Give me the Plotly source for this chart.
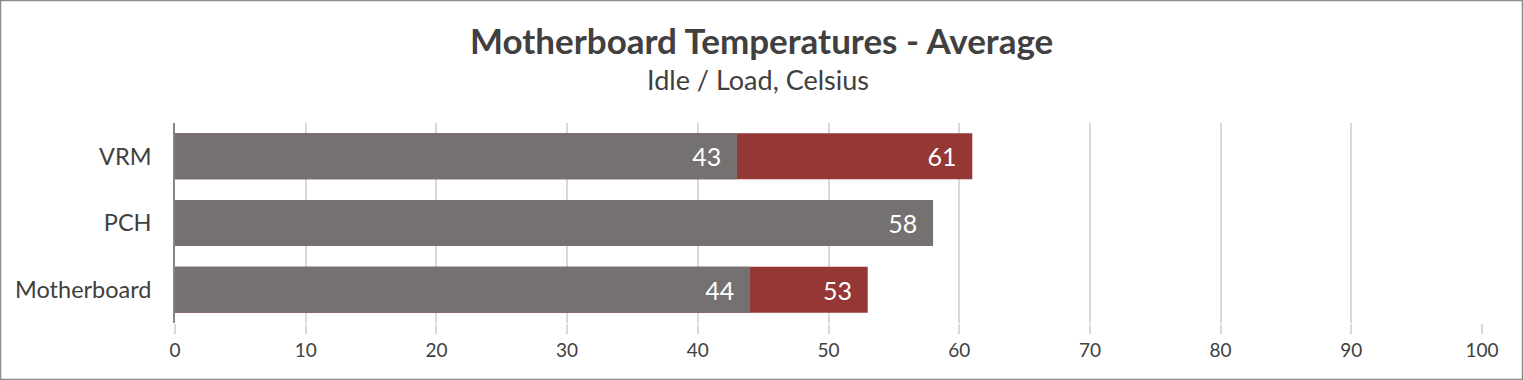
import plotly.graph_objects as go

categories = ["Motherboard", "PCH", "VRM"]
idle = [44, 58, 43]
load = [53, None, 61]

GRAY = "#767171"
RED = "#953735"
FONT = "Lato"
PAD = "&nbsp;&nbsp;"

fig = go.Figure()
fig.add_trace(go.Bar(
    y=categories, x=load, orientation="h", name="Load",
    marker=dict(color=RED, line=dict(width=0)),
    text=[("" if v is None else f"{v}{PAD}") for v in load],
    textposition="inside", insidetextanchor="end",
    textfont=dict(color="white", size=25, family=FONT),
))
fig.add_trace(go.Bar(
    y=categories, x=idle, orientation="h", name="Idle",
    marker=dict(color=GRAY, line=dict(width=0)),
    text=[f"{v}{PAD}" for v in idle],
    textposition="inside", insidetextanchor="end",
    textfont=dict(color="white", size=25, family=FONT),
))

W, H = 1523, 380
L, R, T, B = 175, 41, 123, 57
pw, ph = W - L - R, H - T - B

fig.update_layout(
    width=W, height=H,
    barmode="overlay", bargap=0.31,
    showlegend=False,
    paper_bgcolor="white", plot_bgcolor="white",
    margin=dict(l=L, r=R, t=T, b=B, pad=0),
    font=dict(family=FONT, color="#404040"),
    uniformtext=dict(minsize=8, mode="show"),
    xaxis=dict(
        range=[0, 100], dtick=10, tick0=0,
        showgrid=True, gridcolor="#d9d9d9", gridwidth=1.5,
        zeroline=False, showline=False,
        ticks="outside", ticklen=10, tickcolor="#d9d9d9", tickwidth=1.5,
        tickfont=dict(size=19, color="#404040"),
        fixedrange=True,
    ),
    yaxis=dict(
        showgrid=False, zeroline=False,
        showline=True, linecolor="#868686", linewidth=1.5,
        ticks="", tickfont=dict(size=23.5, color="#404040"),
        ticklabelstandoff=17,
    ),
    annotations=[
        dict(text="<b>Motherboard Temperatures - Average</b>", xref="paper", yref="paper",
             x=(761.5 - L) / pw, y=1 + (T - 40) / ph, xanchor="center", yanchor="middle",
             showarrow=False, font=dict(size=35, color="#404040", family=FONT)),
        dict(text="Idle / Load, Celsius", xref="paper", yref="paper",
             x=(758 - L) / pw, y=1 + (T - 79) / ph, xanchor="center", yanchor="middle",
             showarrow=False, font=dict(size=27, color="#404040", family=FONT)),
    ],
    shapes=[
        dict(type="rect", xref="paper", yref="paper",
             x0=(0.5 - L) / pw, x1=(W - 0.5 - L) / pw,
             y0=-(B - 0.5) / ph, y1=1 + (T - 0.5) / ph,
             line=dict(color="#8c8c8c", width=1.5), fillcolor="rgba(0,0,0,0)", layer="above"),
    ],
)

fig.write_html("out.html", config={"displayModeBar": False},
               post_script="document.body.style.margin='0';document.body.style.overflow='hidden';")
